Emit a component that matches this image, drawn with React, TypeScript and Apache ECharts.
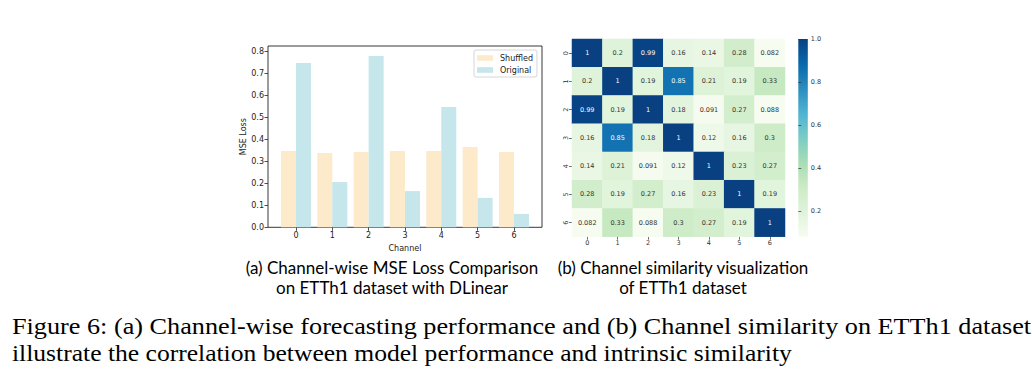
import React, { useEffect, useRef } from "react";
import * as echarts from "echarts";

const channels = ["0", "1", "2", "3", "4", "5", "6"];
const shuffledLoss = [0.348, 0.338, 0.343, 0.348, 0.348, 0.366, 0.343];
const originalLoss = [0.748, 0.206, 0.78, 0.165, 0.548, 0.134, 0.061];
const lossTicks = [0, 0.1, 0.2, 0.3, 0.4, 0.5, 0.6, 0.7, 0.8];
const lossMax = 0.826;

const similarity = [
  [1, 0.2, 0.99, 0.16, 0.14, 0.28, 0.082],
  [0.2, 1, 0.19, 0.85, 0.21, 0.19, 0.33],
  [0.99, 0.19, 1, 0.18, 0.091, 0.27, 0.088],
  [0.16, 0.85, 0.18, 1, 0.12, 0.16, 0.3],
  [0.14, 0.21, 0.091, 0.12, 1, 0.23, 0.27],
  [0.28, 0.19, 0.27, 0.16, 0.23, 1, 0.19],
  [0.082, 0.33, 0.088, 0.3, 0.27, 0.19, 1],
];
const colorbarTicks = [0.2, 0.4, 0.6, 0.8, 1.0];
const simMin = 0.082;
const simMax = 1;
const gnbu = ["#f7fcf0", "#e0f3db", "#ccebc5", "#a8ddb5", "#7bccc4", "#4eb3d3", "#2b8cbe", "#0868ac", "#084081"];

const captionA = ["(a) Channel-wise MSE Loss Comparison", "on ETTh1 dataset with DLinear"];
const captionB = ["(b) Channel similarity visualization", "of ETTh1 dataset"];
const figureCaption = [
  "Figure 6: (a) Channel-wise forecasting performance and (b) Channel similarity on ETTh1 dataset",
  "illustrate the correlation between model performance and intrinsic similarity",
];
const figureCaptionStretch = [1.093, 1.066];

const SANS = "DejaVu Sans";
const AX = "#222";

export default function App() {
  const ref = useRef<HTMLDivElement>(null);
  useEffect(() => {
    if (!ref.current) return;
    const chart = echarts.init(ref.current, null, { renderer: "svg" });

    const heatData: any[] = [];
    similarity.forEach((row, r) =>
      row.forEach((v, c) => {
        heatData.push({
          value: [c, r, v],
          label: { color: v > 0.6 ? "#ffffff" : "#333333" },
        });
      })
    );

    const cb = { left: 798.3, top: 39, width: 9.5, height: 197.7 };

    const option: any = {
      animation: false,
      backgroundColor: "#ffffff",
      textStyle: { fontFamily: SANS },
      grid: [
        { left: 268, top: 46, width: 274, height: 181.3, show: true, borderColor: AX, borderWidth: 0.9, backgroundColor: "transparent" },
        { left: 277.8, top: 46, width: 254.3, height: 181.3 },
        { left: 572, top: 39, width: 213, height: 197.7 },
        { left: cb.left, top: cb.top, width: cb.width, height: cb.height },
      ],
      xAxis: [
        { gridIndex: 0, type: "value", min: 0, max: 1, show: false },
        {
          gridIndex: 1,
          type: "category",
          data: channels,
          axisLine: { show: false },
          axisTick: { show: true, alignWithLabel: true, length: 3.5, lineStyle: { color: AX, width: 0.8 } },
          axisLabel: { fontSize: 8, color: "#222", margin: 4, fontFamily: SANS },
          name: "Channel",
          nameLocation: "middle",
          nameGap: 17,
          nameTextStyle: { fontSize: 8, color: "#222", fontFamily: SANS },
        },
        {
          gridIndex: 2,
          type: "category",
          data: channels,
          axisLine: { show: false },
          axisTick: { show: true, alignWithLabel: true, length: 3, lineStyle: { color: "#333", width: 0.7 } },
          axisLabel: { fontSize: 6.5, color: "#333", margin: 3, fontFamily: SANS },
        },
        { gridIndex: 3, type: "value", min: 0, max: 1, show: false },
      ],
      yAxis: [
        {
          gridIndex: 0,
          type: "value",
          min: 0,
          max: lossMax,
          axisLine: { show: false },
          splitLine: { show: false },
          axisTick: { show: true, length: 3.5, customValues: lossTicks, lineStyle: { color: AX, width: 0.8 } },
          axisLabel: {
            fontSize: 8,
            color: "#222",
            margin: 4,
            fontFamily: SANS,
            customValues: lossTicks,
            formatter: (v: number) => v.toFixed(1),
          },
          name: "MSE Loss",
          nameLocation: "middle",
          nameRotate: 90,
          nameGap: 20,
          nameTextStyle: { fontSize: 8, color: "#222", fontFamily: SANS },
        },
        { gridIndex: 1, type: "value", min: 0, max: lossMax, show: false },
        {
          gridIndex: 2,
          type: "category",
          data: channels,
          inverse: true,
          axisLine: { show: false },
          axisTick: { show: true, alignWithLabel: true, length: 3, lineStyle: { color: "#333", width: 0.7 } },
          axisLabel: { fontSize: 6.5, color: "#333", margin: 3, rotate: 90, fontFamily: SANS },
        },
        {
          gridIndex: 3,
          type: "value",
          position: "right",
          min: simMin,
          max: simMax,
          axisLine: { show: false },
          splitLine: { show: false },
          axisTick: { show: true, length: 3, customValues: colorbarTicks, lineStyle: { color: "#333", width: 0.7 } },
          axisLabel: {
            fontSize: 6.5,
            color: "#333",
            margin: 3,
            fontFamily: SANS,
            customValues: colorbarTicks,
            formatter: (v: number) => v.toFixed(1),
          },
        },
      ],
      legend: {
        orient: "vertical",
        left: 474,
        top: 50,
        padding: [4, 4, 3, 3],
        itemGap: 4,
        itemWidth: 16,
        itemHeight: 5.6,
        borderColor: "#cccccc",
        borderWidth: 0.8,
        borderRadius: 2,
        textStyle: { fontSize: 8, color: "#222", fontFamily: SANS, padding: [0, 0, 0, 2] },
        data: [
          { name: "Shuffled", icon: "rect" },
          { name: "Original", icon: "rect" },
        ],
      },
      visualMap: {
        show: false,
        type: "continuous",
        min: simMin,
        max: simMax,
        seriesIndex: 2,
        dimension: 2,
        inRange: { color: gnbu },
      },
      series: [
        {
          name: "Shuffled",
          type: "bar",
          xAxisIndex: 1,
          yAxisIndex: 1,
          data: shuffledLoss,
          barWidth: 15,
          barGap: "0%",
          itemStyle: { color: "#fdeacb" },
        },
        {
          name: "Original",
          type: "bar",
          xAxisIndex: 1,
          yAxisIndex: 1,
          data: originalLoss,
          barWidth: 15,
          barGap: "0%",
          itemStyle: { color: "#c5e6eb" },
        },
        {
          name: "Similarity",
          type: "heatmap",
          xAxisIndex: 2,
          yAxisIndex: 2,
          data: heatData,
          label: {
            show: true,
            fontSize: 6.5,
            fontFamily: SANS,
            formatter: (p: any) => String(p.value[2]),
          },
          itemStyle: { borderWidth: 0 },
          emphasis: { disabled: true },
        },
      ],
      graphic: [
        {
          type: "rect",
          shape: { x: cb.left, y: cb.top, width: cb.width, height: cb.height },
          style: {
            fill: new echarts.graphic.LinearGradient(
              0,
              0,
              0,
              1,
              gnbu
                .slice()
                .reverse()
                .map((c, i, arr) => ({ offset: i / (arr.length - 1), color: c }))
            ),
          },
          silent: true,
        },
        ...captionA.map((t, i) => ({
          type: "text",
          x: 392,
          y: 267 + i * 20,
          style: { text: t, font: "17px Lato", fill: "#000", align: "center", verticalAlign: "middle" },
        })),
        ...captionB.map((t, i) => ({
          type: "text",
          x: 683,
          y: 267 + i * 20,
          style: { text: t, font: "17px Lato", fill: "#000", align: "center", verticalAlign: "middle" },
        })),
        ...figureCaption.map((t, i) => ({
          type: "text",
          x: 12,
          y: 326 + i * 26.5,
          scaleX: figureCaptionStretch[i],
          style: { text: t, font: "24px 'Liberation Serif'", fill: "#000", align: "left", verticalAlign: "middle" },
        })),
      ],
    };
    chart.setOption(option);
    return () => chart.dispose();
  }, []);
  return (
    <div
      ref={ref}
      style={{ position: "fixed", left: 0, top: 0, width: 1032, height: 371, background: "#fff" }}
    />
  );
}
